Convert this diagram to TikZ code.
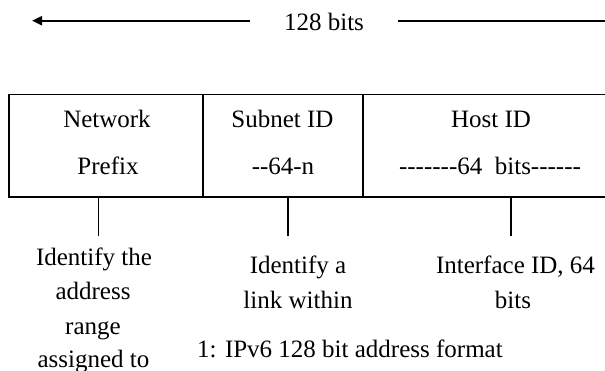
\documentclass[tikz,border=0pt]{standalone}
\usepackage{fontspec}
\setmainfont{Liberation Serif}
\usetikzlibrary{arrows.meta}
\begin{document}
\begin{tikzpicture}[x=1pt,y=-1pt,
  lbl/.style={font=\fontsize{25}{30}\selectfont, inner sep=0pt, anchor=base},
  cell/.style={draw=none, minimum height=102pt, inner sep=0pt},
  frame/.style={line width=1.5pt},
  tick/.style={line width=1.2pt},
  span/.style={line width=2pt}]
\useasboundingbox (0,0) rectangle (605,370);
\clip (0,0) rectangle (605,370);

% overall length marker
\node[lbl] (total) at (324,30) {128 bits};
\coordinate (lb) at (250,20.7);
\coordinate (la) at (32,20.7);
\coordinate (rb) at (398,20.7);
\coordinate (ra) at (605,20.7);
\draw[span, -{Triangle[length=10pt,width=9pt]}] (lb) -- (la);
\draw[span] (rb) -- (ra);

% the three fields of the address
\node[cell, minimum width=194pt] (net) at (106,145.7) {};
\node[cell, minimum width=160pt] (sub) at (283,145.7) {};
\node[cell, minimum width=242pt] (host) at (484,145.7) {};
\draw[frame] (host.north east) -- (net.north west) -- (net.south west) -- (host.south east);
\draw[frame] (net.north east) -- (net.south east);
\draw[frame] (sub.north east) -- (sub.south east);

\node[lbl] (netA) at (107,127.7) {Network};
\node[lbl] (netB) at (108,174) {Prefix};
\node[lbl] (subA) at (282.5,127.7) {Subnet ID};
\node[lbl] (subB) at (283,174) {-{}-64-n};
\node[lbl] (hostA) at (491,127.7) {Host ID};
\node[lbl] (hostB) at (490,174) {-{}-{}-{}-{}-{}-{}-64\ \ bits-{}-{}-{}-{}-{}-};

% pointers to the descriptions
\coordinate (t1) at (98.7,236);
\coordinate (t2) at (288,236);
\coordinate (t3) at (511,236);
\draw[tick] (t1 |- net.south) -- (t1);
\draw[tick] (t2 |- sub.south) -- (t2);
\draw[tick] (t3 |- host.south) -- (t3);

% descriptions
\node[lbl] (d1a) at (94,265) {Identify the};
\node[lbl] (d1b) at (93,299) {address};
\node[lbl] (d1c) at (93,334) {range};
\node[lbl] (d1d) at (93.5,367) {assigned to};
\node[lbl] (d2a) at (298,273) {Identify a};
\node[lbl] (d2b) at (298,308) {link within};
\node[lbl] (d3a) at (515.5,273) {Interface ID, 64};
\node[lbl] (d3b) at (513,308) {bits};

% caption
\node[lbl] (cap) at (350,357) {1: IPv6 128 bit address format};
\end{tikzpicture}
\end{document}
